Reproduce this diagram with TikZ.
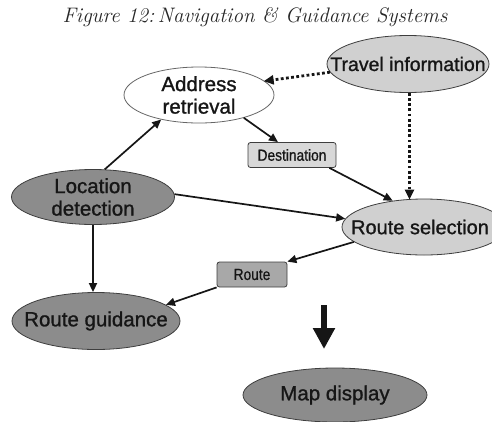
\documentclass[tikz,border=0pt]{standalone}
\usepackage{fontspec}
\newfontfamily\labelfont[FakeBold=1.1]{Liberation Sans}
\newfontfamily\tagfont[FakeStretch=0.86,FakeBold=0.8]{Liberation Sans}
\usetikzlibrary{shapes.geometric,arrows.meta}

\definecolor{inkc}{HTML}{161616}
\definecolor{rimc}{HTML}{3E3E3E}
\definecolor{darkfill}{HTML}{8C8C8C}
\definecolor{lightfill}{HTML}{D0D0D0}
\definecolor{desttag}{HTML}{D8D8D8}
\definecolor{routetag}{HTML}{A8A8A8}

\tikzset{
  blob/.style={ellipse, draw=rimc, line width=0.8pt, inner sep=0pt},
  darkblob/.style={blob, fill=darkfill},
  lightblob/.style={blob, fill=lightfill},
  whiteblob/.style={blob, fill=white, draw=gray!80!black},
  lab/.style={font=\labelfont\fontsize{20.5}{22.5}\selectfont, text=inkc, align=center, inner sep=0pt},
  tag/.style={rectangle, rounded corners=2.5pt, draw=rimc, line width=0.8pt,
    font=\tagfont\fontsize{16}{18}\selectfont, text=inkc, inner sep=0pt},
  flow/.style={draw=inkc, line width=1.7pt, -{Triangle[length=9pt,width=8pt]}},
  feed/.style={draw=inkc, line width=2.8pt, dash pattern=on 2.8pt off 2.4pt,
    -{Triangle[length=10pt,width=9pt]}, shorten >=-1pt},
}

\begin{document}
\begin{tikzpicture}[x=1pt,y=-1pt]
  \useasboundingbox (0,0) rectangle (492,421);

  % caption
  \node[font=\fontsize{21}{23}\selectfont\itshape, text=black!85] (title) at (255,17)
    {Figure 12:\,Navigation \& Guidance Systems};

  % modules
  \node[whiteblob, minimum width=150pt, minimum height=56pt,
        label={[lab]center:Address\\retrieval}] (addr) at (199,95) {};
  \node[lightblob, minimum width=162pt, minimum height=57pt,
        label={[lab,font=\labelfont\fontsize{19.5}{22}\selectfont]center:Travel information}] (trav) at (408,64) {};
  \node[darkblob, minimum width=163pt, minimum height=55pt,
        label={[lab]center:Location\\detection}] (loc) at (93,197) {};
  \node[lightblob, minimum width=164pt, minimum height=56pt,
        label={[lab,font=\labelfont\fontsize{20}{22}\selectfont,xshift=-4pt]center:Route selection}] (rsel) at (424,227) {};
  \node[darkblob, minimum width=168pt, minimum height=57pt,
        label={[lab]center:Route guidance}] (rg) at (96,321) {};
  \node[darkblob, minimum width=184pt, minimum height=54pt,
        label={[lab]center:Map display}] (map) at (335,395) {};

  % data tags
  \node[tag, fill=desttag, minimum width=88pt, minimum height=25pt] (dest) at (292,155) {Destination};
  \node[tag, fill=routetag, minimum width=70pt, minimum height=25pt] (route) at (252,274.5) {Route};

  % data flow
  \draw[flow] (loc.67) -- (addr.213);
  \draw[flow] (addr.333) -- ([xshift=-14pt]dest.north);
  \draw[flow] ([xshift=-7pt]dest.south east) -- (rsel.140);
  \draw[flow] (loc.2) -- (rsel.174);
  \draw[flow] (rsel.192) -- (route.north east);
  \draw[flow] (route.south west) -- (rg.13);
  \draw[flow] (loc.south) -- (loc.south |- rg.north);

  % travel information feeds
  \draw[feed] (trav.186) -- (addr.12);
  \draw[feed] (trav.273) -- (trav.273 |- rsel.north);

  % output arrow towards the display
  \coordinate (pipeTop) at (324,305);
  \coordinate (pipeEnd) at (324,349);
  \draw[draw=inkc, line width=6pt, -{Triangle[length=21pt,width=21pt]}] (pipeTop) -- (pipeEnd);
\end{tikzpicture}
\end{document}
